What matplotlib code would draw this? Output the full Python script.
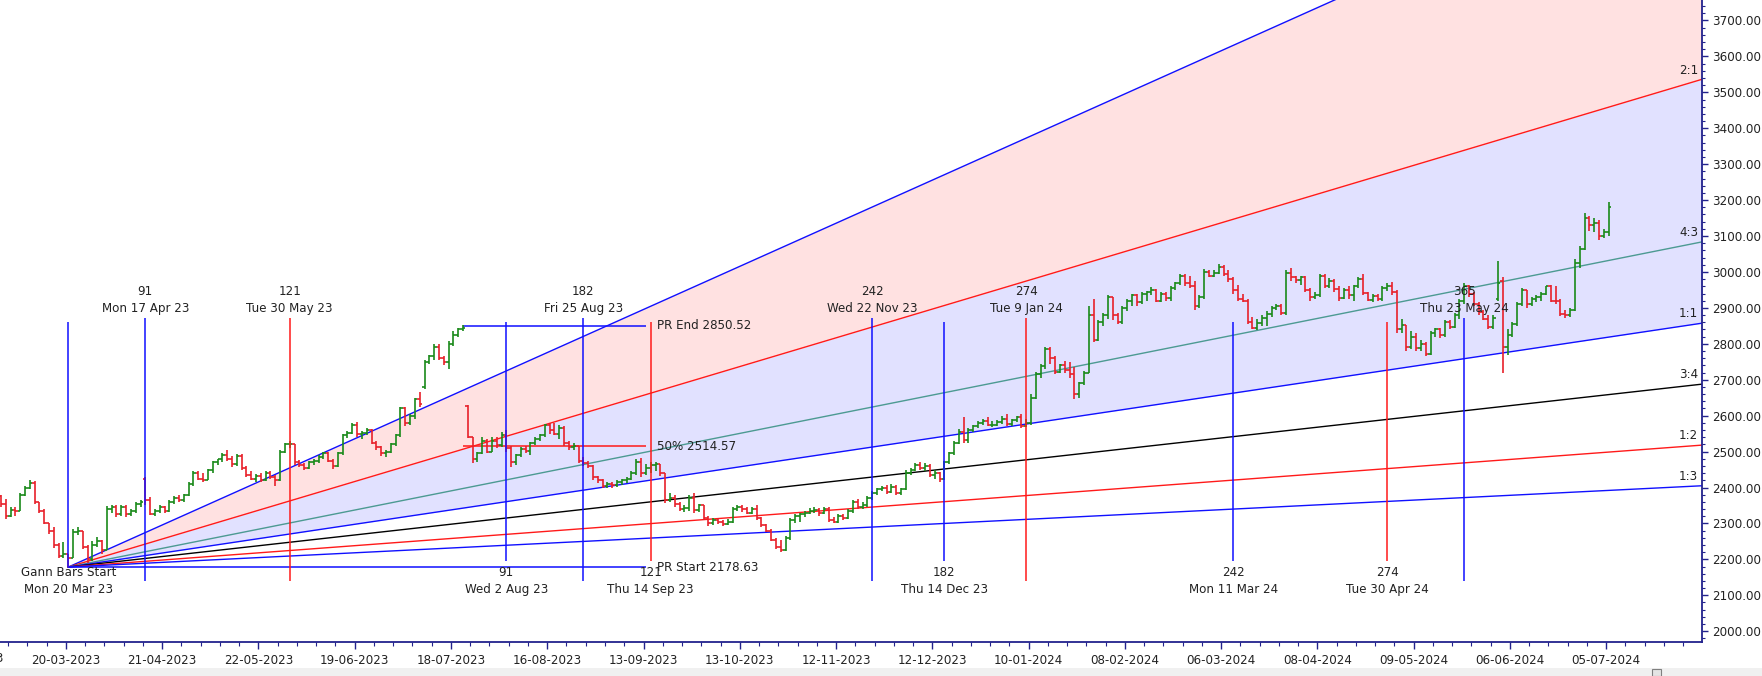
import numpy as np
import matplotlib.pyplot as plt
from matplotlib.ticker import FixedLocator, MultipleLocator, FormatStrFormatter
from matplotlib.patches import Rectangle

plt.rcParams.update({'font.size': 8.6, 'font.family': 'DejaVu Sans'})

# ---- daily bars, index 0 = Mon 20 Mar 23 (Gann start) ----
first_bar = -14
lows = [
    2345, 2312, 2318, 2320, 2335, 2375, 2395, 2355, 2328, 2298,
    2272, 2232, 2203, 2205, 2179, 2210, 2268, 2230, 2190, 2195,
    2235, 2215, 2225, 2330, 2318, 2320, 2318, 2322, 2330, 2345,
    2352, 2323, 2322, 2328, 2330, 2332, 2355, 2360, 2360, 2375,
    2405, 2420, 2415, 2420, 2440, 2462, 2472, 2475, 2458, 2460,
    2450, 2430, 2420, 2415, 2415, 2418, 2425, 2405, 2418, 2495,
    2510, 2462, 2457, 2450, 2452, 2462, 2468, 2480, 2470, 2452,
    2458, 2490, 2538, 2548, 2540, 2535, 2545, 2520, 2505, 2488,
    2485, 2495, 2515, 2540, 2570, 2575, 2590, 2625, 2675, 2745,
    2755, 2755, 2742, 2730, 2795, 2820, 2835, 2538, 2468, 2472,
    2492, 2495, 2498, 2510, 2512, 2500, 2457, 2462, 2485, 2495,
    2490, 2518, 2530, 2540, 2550, 2545, 2535, 2515, 2505, 2505,
    2468, 2460, 2455, 2420, 2412, 2400, 2400, 2400, 2402, 2408,
    2412, 2420, 2435, 2430, 2435, 2440, 2445, 2432, 2356, 2360,
    2345, 2335, 2332, 2335, 2330, 2332, 2310, 2292, 2295, 2298,
    2292, 2295, 2300, 2335, 2332, 2325, 2325, 2310, 2290, 2275,
    2250, 2230, 2220, 2222, 2255, 2300, 2305, 2318, 2325, 2328,
    2322, 2325, 2305, 2300, 2302, 2310, 2312, 2330, 2340, 2340,
    2345, 2365, 2380, 2390, 2382, 2385, 2378, 2380, 2392, 2435,
    2445, 2448, 2445, 2428, 2425, 2415, 2420, 2465, 2490, 2520,
    2525, 2525, 2555, 2565, 2575, 2570, 2568, 2570, 2578, 2570,
    2572, 2582, 2565, 2568, 2575, 2645, 2705, 2730, 2745, 2715,
    2718, 2720, 2705, 2645, 2650, 2685, 2720, 2805, 2808, 2850,
    2870, 2865, 2855, 2855, 2890, 2905, 2905, 2910, 2920, 2935,
    2915, 2915, 2918, 2920, 2950, 2965, 2960, 2955, 2895, 2900,
    2925, 2985, 2985, 2995, 2990, 2972, 2940, 2920, 2915, 2855,
    2840, 2838, 2850, 2850, 2875, 2895, 2880, 2880, 2975, 2970,
    2965, 2945, 2920, 2925, 2930, 2955, 2955, 2945, 2920, 2925,
    2925, 2920, 2955, 2935, 2918, 2915, 2918, 2920, 2948, 2935,
    2830, 2830, 2780, 2785, 2780, 2780, 2765, 2770, 2820, 2815,
    2820, 2840, 2845, 2870, 2910, 2930, 2905, 2880, 2865, 2840,
    2842, 2920, 2720, 2770, 2820, 2850, 2905, 2900, 2905, 2915,
    2920, 2935, 2915, 2912, 2878, 2872, 2875, 2890, 3010, 3060,
    3115, 3110, 3090, 3095, 3100,
]
highs = [
    2380, 2368, 2345, 2345, 2385, 2405, 2420, 2418, 2360, 2340,
    2300, 2290, 2245, 2248, 2215, 2285, 2290, 2280, 2240, 2250,
    2262, 2255, 2348, 2352, 2350, 2350, 2350, 2340, 2360, 2365,
    2428, 2373, 2340, 2350, 2348, 2365, 2375, 2378, 2382, 2415,
    2445, 2445, 2440, 2452, 2475, 2480, 2495, 2505, 2488, 2492,
    2492, 2460, 2445, 2438, 2440, 2445, 2445, 2435, 2505, 2525,
    2530, 2520, 2476, 2468, 2475, 2480, 2490, 2500, 2498, 2478,
    2500, 2550, 2558, 2580, 2582, 2558, 2565, 2562, 2530, 2515,
    2505, 2525, 2550, 2625, 2625, 2605, 2648, 2665, 2755, 2768,
    2800, 2800, 2765, 2808, 2835, 2845, 2851, 2630, 2540, 2500,
    2540, 2535, 2540, 2540, 2555, 2560, 2515, 2492, 2512, 2515,
    2528, 2540, 2550, 2578, 2580, 2580, 2575, 2570, 2530, 2525,
    2515, 2485, 2475, 2462, 2432, 2425, 2415, 2415, 2420, 2425,
    2428, 2445, 2480, 2482, 2465, 2470, 2470, 2450, 2440, 2385,
    2378, 2360, 2350, 2380, 2385, 2355, 2352, 2320, 2315, 2315,
    2310, 2312, 2345, 2352, 2350, 2345, 2345, 2350, 2318, 2298,
    2285, 2260, 2255, 2265, 2315, 2325, 2330, 2335, 2342, 2345,
    2342, 2345, 2345, 2318, 2325, 2325, 2340, 2365, 2368, 2360,
    2375, 2390, 2400, 2405, 2408, 2410, 2408, 2400, 2448, 2455,
    2468, 2470, 2468, 2465, 2450, 2442, 2475, 2500, 2530, 2562,
    2596, 2565, 2575, 2585, 2590, 2595, 2585, 2588, 2600, 2605,
    2592, 2598, 2605, 2590, 2660, 2722, 2745, 2792, 2790, 2765,
    2745, 2752, 2750, 2735, 2695, 2725, 2905, 2925, 2865, 2885,
    2935, 2930, 2885, 2905, 2925, 2940, 2940, 2945, 2948, 2958,
    2952, 2945, 2945, 2962, 2972, 2995, 2995, 2990, 2975, 2935,
    3008, 3005, 3005, 3022, 3020, 3005, 2985, 2965, 2940, 2925,
    2875, 2870, 2880, 2890, 2905, 2910, 2910, 3005, 3010, 2990,
    2990, 2988, 2955, 2945, 2995, 2995, 2982, 2980, 2960, 2955,
    2960, 2965, 2985, 2995, 2945, 2940, 2940, 2962, 2970, 2972,
    2950, 2870, 2840, 2835, 2830, 2810, 2805, 2835, 2845, 2845,
    2865, 2865, 2885, 2925, 2970, 2965, 2945, 2915, 2895, 2880,
    2880, 3030, 2985, 2840, 2860, 2915, 2955, 2945, 2930, 2935,
    2945, 2962, 2965, 2962, 2925, 2895, 2900, 3035, 3072, 3165,
    3155, 3150, 3145, 3120, 3195,
]
closes = [
    2355, 2320, 2338, 2335, 2380, 2400, 2412, 2360, 2335, 2300,
    2280, 2240, 2210, 2215, 2205, 2275, 2280, 2235, 2200, 2240,
    2250, 2225, 2340, 2345, 2325, 2345, 2325, 2335, 2355, 2360,
    2365, 2325, 2335, 2345, 2335, 2360, 2370, 2365, 2378, 2410,
    2440, 2425, 2420, 2450, 2470, 2478, 2490, 2480, 2465, 2488,
    2455, 2435, 2425, 2432, 2420, 2440, 2428, 2420, 2500, 2520,
    2522, 2470, 2462, 2455, 2470, 2475, 2485, 2495, 2475, 2460,
    2495, 2545, 2552, 2575, 2548, 2552, 2560, 2525, 2512, 2495,
    2498, 2520, 2545, 2620, 2580, 2600, 2645, 2632, 2750, 2765,
    2790, 2760, 2750, 2800, 2825, 2840, 2845, 2540, 2480, 2495,
    2530, 2500, 2530, 2518, 2545, 2510, 2470, 2490, 2508, 2502,
    2525, 2535, 2545, 2575, 2560, 2550, 2565, 2525, 2512, 2515,
    2475, 2468, 2460, 2430, 2420, 2405, 2410, 2406, 2415, 2420,
    2425, 2440, 2470, 2440, 2455, 2462, 2465, 2440, 2365, 2372,
    2355, 2340, 2342, 2372, 2338, 2350, 2315, 2300, 2310, 2305,
    2298, 2305, 2340, 2345, 2340, 2330, 2340, 2315, 2295, 2280,
    2255, 2235, 2225, 2260, 2310, 2320, 2325, 2330, 2335, 2338,
    2330, 2340, 2310, 2305, 2320, 2315, 2335, 2360, 2345, 2350,
    2370, 2385, 2395, 2400, 2388, 2402, 2385, 2395, 2440, 2450,
    2462, 2455, 2460, 2435, 2440, 2425, 2470, 2495, 2525, 2555,
    2532, 2560, 2570, 2580, 2585, 2575, 2575, 2582, 2592, 2578,
    2588, 2595, 2570, 2580, 2650, 2715, 2738, 2785, 2760, 2722,
    2740, 2728, 2715, 2660, 2690, 2720, 2880, 2812, 2860, 2880,
    2930, 2880, 2862, 2900, 2920, 2935, 2915, 2940, 2945, 2950,
    2920, 2940, 2928, 2955, 2968, 2990, 2970, 2962, 2905, 2930,
    3000, 2990, 2998, 3015, 2995, 2980, 2950, 2925, 2920, 2860,
    2845, 2858, 2872, 2882, 2900, 2905, 2885, 2998, 2985, 2978,
    2985, 2950, 2930, 2935, 2990, 2962, 2975, 2952, 2928, 2950,
    2935, 2960, 2980, 2942, 2922, 2932, 2925, 2955, 2962, 2945,
    2840, 2852, 2790, 2820, 2788, 2800, 2772, 2830, 2840, 2825,
    2860, 2848, 2880, 2920, 2960, 2938, 2910, 2888, 2870, 2848,
    2872, 2970, 2790, 2825, 2855, 2910, 2950, 2910, 2925, 2930,
    2940, 2960, 2920, 2918, 2882, 2880, 2895, 3025, 3065, 3150,
    3130, 3135, 3100, 3110, 3180,
]
# bars whose open is not the previous close (gaps)
gap_opens = {-14: 2375, 16: 2425, 74: 2680, 83: 2627, 297: 2925, 298: 2975}

# ---- Gann settings ----
pr_start = 2178.63
pr_end = 2850.52
pr_mid = 2514.57
unit = 2.0  # price per bar for the 1:1 angle
fan_ratios = [3, 2, 4 / 3, 1, 3 / 4, 1 / 2, 1 / 3]
fan_names = ['', '2:1', '4:3', '1:1', '3:4', '1:2', '1:3']
fan_colors = ['#1010ff', '#ff1a1a', '#4c9a92', '#1010ff', '#000000', '#ff1a1a', '#1010ff']

upper_idx = [16, 46, 107, 167, 199, 290]
upper_count = ['91', '121', '182', '242', '274', '365']
upper_date = ['Mon 17 Apr 23', 'Tue 30 May 23', 'Fri 25 Aug 23',
              'Wed 22 Nov 23', 'Tue 9 Jan 24', 'Thu 23 May 24']
upper_color = ['#1010ff', '#ff1a1a', '#1010ff', '#1010ff', '#ff1a1a', '#1010ff']

lower_idx = [91, 121, 182, 242, 274]
lower_count = ['91', '121', '182', '242', '274']
lower_date = ['Wed 2 Aug 23', 'Thu 14 Sep 23', 'Thu 14 Dec 23',
              'Mon 11 Mar 24', 'Tue 30 Apr 24']
lower_color = ['#1010ff', '#ff1a1a', '#1010ff', '#1010ff', '#ff1a1a']

xtick_idx = list(range(0, 321, 20))
xtick_labels = ['20-03-2023', '21-04-2023', '22-05-2023', '19-06-2023', '18-07-2023',
                '16-08-2023', '13-09-2023', '13-10-2023', '12-11-2023', '12-12-2023',
                '10-01-2024', '08-02-2024', '06-03-2024', '08-04-2024', '09-05-2024',
                '06-06-2024', '05-07-2024']

# ---- figure ----
W, H = 1762, 676
fig = plt.figure(figsize=(W / 100, H / 100), dpi=100)
ax = fig.add_axes([0, 34 / H, 1702 / W, 642 / H])
x_lo, x_hi = -14.19, 339.4
ax.set_xlim(x_lo, x_hi)
ax.set_ylim(1970, 3757)

txt_col = '#222222'
navy = '#22228c'

# fan
xs = np.array([0.0, x_hi])
fan_y = [pr_start + r * unit * xs for r in fan_ratios]
ax.fill_between(xs, fan_y[1], fan_y[0], color='#ffe1e1', lw=0, zorder=0)
ax.fill_between(xs, fan_y[3], fan_y[1], color='#e1e1ff', lw=0, zorder=0)
for ys, c, name in zip(fan_y, fan_colors, fan_names):
    ax.plot(xs, ys, color=c, lw=1.0, zorder=1)
    if name:
        ax.annotate(name, (x_hi - 0.8, ys[1] - (x_hi - 0.8 - xs[1]) * 0 ), xytext=(0, 2),
                    textcoords='offset points', ha='right', va='bottom',
                    color=txt_col, zorder=5)

# bars
idx = np.arange(first_bar, first_bar + len(closes))
lows = np.array(lows, float)
highs = np.array(highs, float)
closes = np.array(closes, float)
opens = np.r_[closes[0], closes[:-1]]
for k, v in gap_opens.items():
    opens[k - first_bar] = v
bar_col = np.where(closes >= opens, '#1a8a1a', '#e8202a')
lo = np.minimum(lows, np.minimum(opens, closes))
hi = np.maximum(highs, np.maximum(opens, closes))
ax.vlines(idx, lo, hi, colors=bar_col, lw=1.2, zorder=3)
ax.hlines(opens, idx - 0.5, idx, colors=bar_col, lw=1.2, zorder=3)
ax.hlines(closes, idx, idx + 0.5, colors=bar_col, lw=1.2, zorder=3)

# price range lines
ax.hlines(pr_start, 0, 120, color='#1010ff', lw=1.1, zorder=2)
ax.hlines(pr_end, 82, 120, color='#1010ff', lw=1.1, zorder=2)
ax.hlines(pr_mid, 82, 120, color='#ff1a1a', lw=1.1, zorder=2)
ax.text(122.4, pr_end, 'PR End %.2f' % pr_end, va='center', ha='left', color=txt_col, zorder=5)
ax.text(122.4, pr_mid, '50%% %.2f' % pr_mid, va='center', ha='left', color=txt_col, zorder=5)
ax.text(122.4, pr_start, 'PR Start %.2f' % pr_start, va='center', ha='left', color=txt_col, zorder=5)

# time lines
ax.vlines(0, pr_start, 2860, color='#1010ff', lw=1.1, zorder=4)
ax.text(0, 2164.5, 'Gann Bars Start', ha='center', va='center', color=txt_col, zorder=5)
ax.text(0, 2115.4, 'Mon 20 Mar 23', ha='center', va='center', color=txt_col, zorder=5)
for i, n, d, c in zip(upper_idx, upper_count, upper_date, upper_color):
    ax.vlines(i, 2141, 2873, color=c, lw=1.1, zorder=4)
    ax.text(i, 2946, n, ha='center', va='center', color=txt_col, zorder=5)
    ax.text(i, 2897, d, ha='center', va='center', color=txt_col, zorder=5)
for i, n, d, c in zip(lower_idx, lower_count, lower_date, lower_color):
    ax.vlines(i, 2195, 2860, color=c, lw=1.1, zorder=4)
    ax.text(i, 2164.5, n, ha='center', va='center', color=txt_col, zorder=5)
    ax.text(i, 2115.4, d, ha='center', va='center', color=txt_col, zorder=5)

# axes styling
for s in ['top', 'left']:
    ax.spines[s].set_visible(False)
for s in ['right', 'bottom']:
    ax.spines[s].set_color(navy)
    ax.spines[s].set_linewidth(1.3)

ax.yaxis.tick_right()
ax.yaxis.set_major_locator(FixedLocator(np.arange(2000, 3701, 100)))
ax.yaxis.set_minor_locator(MultipleLocator(20))
ax.yaxis.set_major_formatter(FormatStrFormatter('%.2f'))
ax.tick_params(axis='y', which='major', length=4, width=1, color=navy, pad=3,
               labelcolor=txt_col, labelsize=8.6)
ax.tick_params(axis='y', which='minor', length=2, width=0.8, color=navy)

ax.set_xticks([i - 0.5 for i in xtick_idx])
ax.set_xticklabels(xtick_labels)
ax.xaxis.set_minor_locator(FixedLocator(np.arange(-12.5, 340, 4)))
ax.tick_params(axis='x', which='major', length=5, width=1, color=navy, pad=4,
               labelcolor=txt_col, labelsize=8.6)
ax.tick_params(axis='x', which='minor', length=3, width=0.8, color=navy)
ax.text(-20.5, -0.025, '17-02-2023', transform=ax.get_xaxis_transform(),
        ha='center', va='center', color=txt_col, fontsize=8.6, clip_on=False)

# scrollbar strip at the bottom
fig.patches.append(Rectangle((0, 0), 1, 8 / H, transform=fig.transFigure,
                             facecolor='#f0f0f0', edgecolor='none', zorder=0))
fig.patches.append(Rectangle((1652 / W, 0), 9 / W, 7 / H, transform=fig.transFigure,
                             facecolor='#e4e4e4', edgecolor='#808080', lw=0.8, zorder=1))

fig.savefig('out.png', dpi=100)
